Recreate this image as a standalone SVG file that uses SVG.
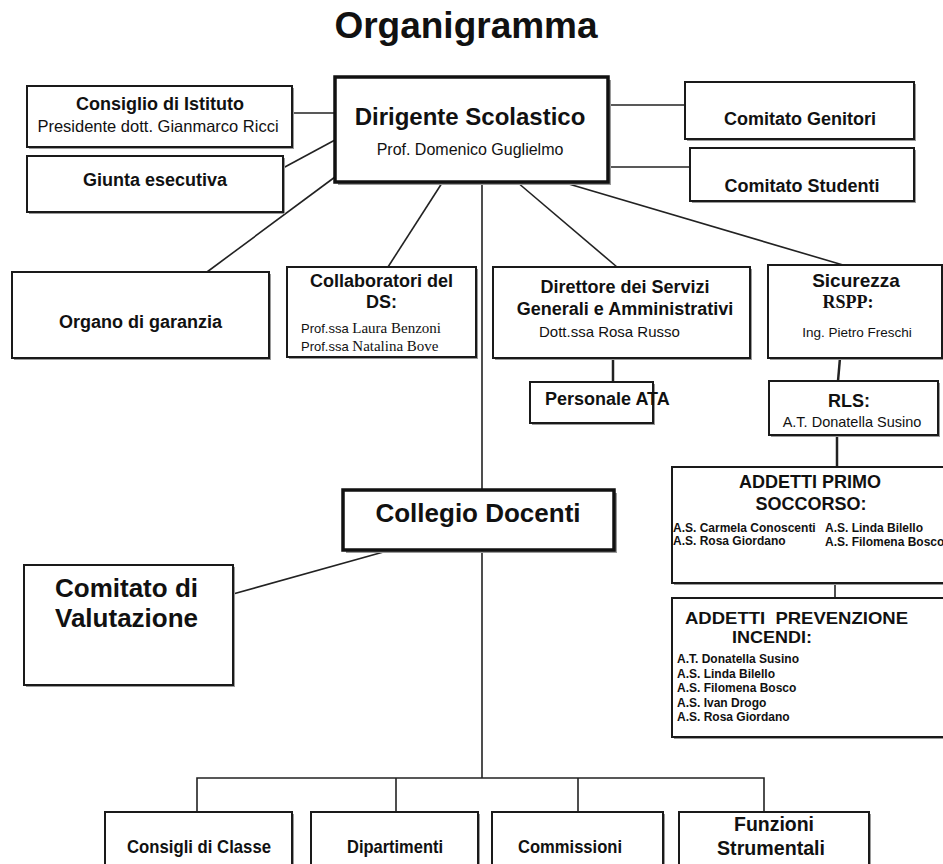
<svg xmlns="http://www.w3.org/2000/svg" width="943" height="864" viewBox="0 0 943 864">
<style>
text{font-family:"Liberation Sans",Arial,sans-serif;fill:#111}
.b{font-weight:bold}
.c{text-anchor:middle}
.tm{font-family:"Liberation Serif","Times New Roman",serif}
.box{fill:#fff;stroke:#1a1a1a;stroke-width:2}
.thick{fill:#fff;stroke:#111;stroke-width:3.5}
.sh{fill:#9a9a9a}
#connectors line,#connectors polyline{stroke:#222;stroke-width:1.6;fill:none}
</style>
<rect width="943" height="864" fill="#fff"/>
<text x="466" y="38" class="b c" font-size="37">Organigramma</text>

<g id="connectors">
<line x1="292" y1="113" x2="335" y2="113"/>
<line x1="283" y1="168" x2="335" y2="140"/>
<line x1="335" y1="177" x2="207" y2="272"/>
<line x1="442" y1="183" x2="388" y2="267"/>
<line x1="482" y1="182" x2="482" y2="490"/>
<line x1="482" y1="550" x2="482" y2="778"/>
<line x1="517" y1="182" x2="617" y2="267"/>
<line x1="562" y1="182" x2="843" y2="265"/>
<line x1="608" y1="105" x2="685" y2="105"/>
<line x1="608" y1="167" x2="690" y2="167"/>
<line x1="613" y1="358" x2="613" y2="382" style="stroke-width:2.5"/>
<line x1="840" y1="358" x2="838" y2="381" style="stroke-width:2.5"/>
<line x1="837" y1="435" x2="837" y2="467" style="stroke-width:2.5"/>
<line x1="835" y1="583" x2="835" y2="598"/>
<line x1="387" y1="551" x2="233" y2="594"/>
<polyline points="197,812 197,778 764,778 764,812"/>
<line x1="396" y1="778" x2="396" y2="812"/>
<line x1="578" y1="778" x2="578" y2="812"/>
</g>

<g id="consiglio">
<rect x="29" y="88" width="265" height="61" class="sh"/>
<rect x="27" y="86" width="265" height="61" class="box"/>
<text x="160" y="110" class="b c" font-size="18">Consiglio di Istituto</text>
<text x="158" y="132" class="c" font-size="16.5">Presidente dott. Gianmarco Ricci</text>
</g>

<g id="giunta">
<rect x="29" y="158" width="256" height="56" class="sh"/>
<rect x="27" y="156" width="256" height="56" class="box"/>
<text x="155" y="186" class="b c" font-size="18">Giunta esecutiva</text>
</g>

<g id="dirigente">
<rect x="338" y="80" width="273" height="105" class="sh"/>
<rect x="335" y="77" width="273" height="105" class="thick"/>
<text x="470" y="125" class="b c" font-size="24">Dirigente Scolastico</text>
<text x="470" y="155" class="c" font-size="16">Prof. Domenico Guglielmo</text>
</g>

<g id="genitori">
<rect x="687" y="84" width="229" height="57" class="sh"/>
<rect x="685" y="82" width="229" height="57" class="box"/>
<text x="800" y="125" class="b c" font-size="18">Comitato Genitori</text>
</g>

<g id="studenti">
<rect x="692" y="150" width="224" height="53" class="sh"/>
<rect x="690" y="148" width="224" height="53" class="box"/>
<text x="802" y="192" class="b c" font-size="18">Comitato Studenti</text>
</g>

<g id="organo">
<rect x="14" y="274" width="257" height="86" class="sh"/>
<rect x="12" y="272" width="257" height="86" class="box"/>
<text x="140.5" y="328" class="b c" font-size="18">Organo di garanzia</text>
</g>

<g id="collaboratori">
<rect x="289" y="269" width="189" height="90" class="sh"/>
<rect x="287" y="267" width="189" height="90" class="box"/>
<text x="381.5" y="287" class="b c" font-size="18">Collaboratori del</text>
<text x="381.5" y="308" class="b c" font-size="18">DS:</text>
<text x="301" y="333" font-size="13">Prof.ssa <tspan class="tm" font-size="15">Laura Benzoni</tspan></text>
<text x="301" y="351" font-size="13">Prof.ssa <tspan class="tm" font-size="15">Natalina Bove</tspan></text>
</g>

<g id="direttore">
<rect x="495" y="269" width="257" height="91" class="sh"/>
<rect x="493" y="267" width="257" height="91" class="box"/>
<text x="625" y="293" class="b c" font-size="18">Direttore dei Servizi</text>
<text x="625" y="315" class="b c" font-size="18">Generali e Amministrativi</text>
<text x="539" y="337" font-size="15">Dott.ssa  Rosa Russo</text>
</g>

<g id="personale">
<rect x="532" y="384" width="123" height="41" class="sh"/>
<rect x="530" y="382" width="123" height="41" class="box"/>
<text x="545" y="405" class="b" font-size="18">Personale ATA</text>
</g>

<g id="sicurezza">
<rect x="770" y="267" width="174" height="93" class="sh"/>
<rect x="768" y="265" width="174" height="93" class="box"/>
<text x="856" y="287" class="b c" font-size="19">Sicurezza</text>
<text x="848" y="308" class="b c tm" font-size="18">RSPP:</text>
<text x="857" y="337" class="c" font-size="13.5">Ing. Pietro Freschi</text>
</g>

<g id="rls">
<rect x="771" y="383" width="169" height="54" class="sh"/>
<rect x="769" y="381" width="169" height="54" class="box"/>
<text x="849" y="407" class="b c" font-size="18">RLS:</text>
<text x="852" y="427" class="c" font-size="14.5">A.T. Donatella Susino</text>
</g>

<g id="primo-soccorso">
<rect x="674" y="469" width="280" height="116" class="sh"/>
<rect x="672" y="467" width="280" height="116" class="box"/>
<text x="810" y="488" class="b c" font-size="18">ADDETTI PRIMO</text>
<text x="811" y="510" class="b c" font-size="18">SOCCORSO:</text>
<text x="673" y="532" class="b" font-size="12">A.S. Carmela Conoscenti</text>
<text x="825" y="532" class="b" font-size="12">A.S. Linda Bilello</text>
<text x="673" y="545" class="b" font-size="12">A.S. Rosa Giordano</text>
<text x="825" y="546" class="b" font-size="12">A.S. Filomena Bosco</text>
</g>

<g id="prevenzione">
<rect x="674" y="600" width="280" height="139" class="sh"/>
<rect x="672" y="598" width="280" height="139" class="box"/>
<text x="685" y="624" class="b" font-size="16.5" textLength="223" lengthAdjust="spacingAndGlyphs" xml:space="preserve">ADDETTI  PREVENZIONE</text>
<text x="732" y="643" class="b" font-size="16.5" textLength="80" lengthAdjust="spacingAndGlyphs">INCENDI:</text>
<text x="677" y="663" class="b" font-size="12">A.T. Donatella Susino</text>
<text x="677" y="678" class="b" font-size="12">A.S. Linda Bilello</text>
<text x="677" y="692" class="b" font-size="12">A.S. Filomena Bosco</text>
<text x="677" y="707" class="b" font-size="12">A.S. Ivan Drogo</text>
<text x="677" y="721" class="b" font-size="12">A.S. Rosa Giordano</text>
</g>

<g id="collegio">
<rect x="346" y="493" width="271" height="60" class="sh"/>
<rect x="343" y="490" width="271" height="60" class="thick"/>
<text x="478" y="522" class="b c" font-size="26">Collegio Docenti</text>
</g>

<g id="valutazione">
<rect x="26" y="567" width="209" height="120" class="sh"/>
<rect x="24" y="565" width="209" height="120" class="box"/>
<text x="55" y="597" class="b" font-size="26">Comitato di</text>
<text x="55" y="627" class="b" font-size="26">Valutazione</text>
</g>

<g id="consigli-classe">
<rect x="107" y="814" width="187" height="60" class="sh"/>
<rect x="105" y="812" width="187" height="60" class="box"/>
<text x="199" y="853" class="b c" font-size="19" textLength="144" lengthAdjust="spacingAndGlyphs">Consigli di Classe</text>
</g>

<g id="dipartimenti">
<rect x="313" y="814" width="167" height="60" class="sh"/>
<rect x="311" y="812" width="167" height="60" class="box"/>
<text x="395" y="853" class="b c" font-size="19" textLength="96" lengthAdjust="spacingAndGlyphs">Dipartimenti</text>
</g>

<g id="commissioni">
<rect x="494" y="814" width="171" height="60" class="sh"/>
<rect x="492" y="812" width="171" height="60" class="box"/>
<text x="570" y="853" class="b c" font-size="19" textLength="104" lengthAdjust="spacingAndGlyphs">Commissioni</text>
</g>

<g id="funzioni">
<rect x="681" y="814" width="190" height="60" class="sh"/>
<rect x="679" y="812" width="190" height="60" class="box"/>
<text x="774" y="831" class="b c" font-size="20" textLength="80" lengthAdjust="spacingAndGlyphs">Funzioni</text>
<text x="771" y="855" class="b c" font-size="20" textLength="108" lengthAdjust="spacingAndGlyphs">Strumentali</text>
</g>
</svg>
